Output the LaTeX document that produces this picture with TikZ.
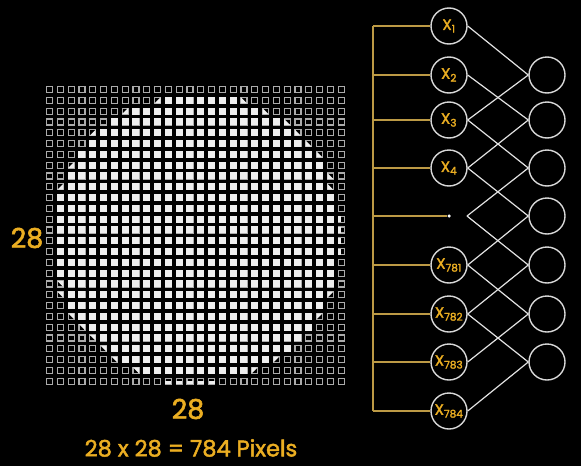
\documentclass[tikz,border=0pt]{standalone}
\usepackage{fontspec}
\usepackage{ifthen}
\setmainfont{Poppins}
\newfontfamily\popmed{Poppins}[FakeBold=2]
\definecolor{gold}{HTML}{EBAE22}
\definecolor{busgold}{HTML}{BC9A45}
\definecolor{cellgray}{HTML}{ABABAB}
\definecolor{cellwhite}{HTML}{EEEEEE}
\definecolor{ringgray}{HTML}{D8D8D8}
\definecolor{wiregray}{HTML}{E2E2E2}
\begin{document}
\begin{tikzpicture}[x=1pt,y=-1pt,
  emptycell/.style={draw=cellgray, line width=1.2pt},
  fullcell/.style={fill=cellwhite},
  neuron/.style={circle, draw=ringgray, line width=1.4pt, minimum size=36pt, inner sep=0pt, text=gold, font=\popmed\fontsize{15}{15}\selectfont},
  busline/.style={draw=busgold, line width=1.4pt},
  wire/.style={draw=wiregray, line width=1.2pt},
  dotnode/.style={circle, fill=white, minimum size=3.5pt, inner sep=0pt},
  bigtxt/.style={text=gold, font=\popmed\fontsize{27}{27}\selectfont},
  midtxt/.style={text=gold, font=\popmed\fontsize{22.5}{22.5}\selectfont}]
\fill[black] (0,0) rectangle (581,466);
\useasboundingbox (0,0) rectangle (581,466);
% ---------- grid: empty outlines ----------
\foreach \r in {0,...,27}{
  \foreach \c in {0,...,27}{
    \pgfmathsetmacro\xx{46.5+10.8*\c}
    \pgfmathsetmacro\yy{86.5+10.8*\r}
    \draw[emptycell] (\xx,\yy) rectangle ++(6,6);
  }
}
% ---------- filled cells ----------
\foreach \r/\a/\b in {1/11/17, 2/8/19, 3/6/21, 4/5/22, 5/4/23, 6/3/24, 7/3/25, 8/2/25, 9/2/25,
  10/1/26, 11/1/26, 12/1/26, 13/1/26, 14/1/26, 15/1/26, 16/1/26, 17/1/26, 18/2/26, 19/2/25,
  20/2/25, 21/3/24, 22/4/24, 23/5/23, 24/6/22, 25/7/20, 26/9/18}{
  \foreach \c in {\a,...,\b}{
    \pgfmathsetmacro\xx{46.5+10.8*\c}
    \pgfmathsetmacro\yy{86.5+10.8*\r}
    \fill[fullcell] (\xx-0.5,\yy-0.5) rectangle ++(7,7);
  }
}
% ---------- partial cells ----------
\foreach \r/\c/\d in {1/10/br, 1/18/bl, 2/7/br, 2/20/bl, 3/22/bl, 4/4/br, 4/23/bl, 5/24/bl, 6/25/bl,
  7/2/br, 8/26/bl, 9/1/br, 9/26/bl, 12/27/lh, 13/27/lh, 14/27/lh, 15/27/lh, 18/1/tr, 19/1/tr, 19/26/tl,
  21/2/tr, 21/25/tl, 22/3/tr, 23/4/tr, 24/5/tr, 25/6/tr, 25/21/tl, 26/8/tr, 26/19/tl,
  27/11/bh, 27/12/bh, 27/13/bh, 27/14/bh, 27/15/bh}{
  \pgfmathsetmacro\xx{46.5+10.8*\c}
  \pgfmathsetmacro\yy{86.5+10.8*\r}
  \ifthenelse{\equal{\d}{br}}{\fill[cellwhite] (\xx+6,\yy) -- (\xx+6,\yy+6) -- (\xx,\yy+6) -- cycle;}{}
  \ifthenelse{\equal{\d}{bl}}{\fill[cellwhite] (\xx,\yy) -- (\xx,\yy+6) -- (\xx+6,\yy+6) -- cycle;}{}
  \ifthenelse{\equal{\d}{tr}}{\fill[cellwhite] (\xx,\yy) -- (\xx+6,\yy) -- (\xx+6,\yy+6) -- cycle;}{}
  \ifthenelse{\equal{\d}{tl}}{\fill[cellwhite] (\xx,\yy) -- (\xx+6,\yy) -- (\xx,\yy+6) -- cycle;}{}
  \ifthenelse{\equal{\d}{lh}}{\fill[cellwhite] (\xx,\yy) rectangle (\xx+3.2,\yy+6);}{}
  \ifthenelse{\equal{\d}{bh}}{\fill[cellwhite] (\xx,\yy+3) rectangle (\xx+6,\yy+6);}{}
}
% ---------- texts ----------
\node[bigtxt] (side) at (27,238) {28};
\node[bigtxt] (bottom) at (188,409) {28};
\node[midtxt] (formula) at (191,448) {28 x 28 = 784 Pixels};
% ---------- input neurons ----------
\node[neuron] (i0) at (449,26) {X\textsubscript{1}};
\node[neuron] (i1) at (449,75) {X\textsubscript{2}};
\node[neuron] (i2) at (449,120) {X\textsubscript{3}};
\node[neuron] (i3) at (449,168) {X\textsubscript{4}};
\node[dotnode] (i4) at (449,216) {};
\coordinate (i4e) at (467,216);
\node[neuron] (i5) at (449,265) {X\textsubscript{781}};
\node[neuron] (i6) at (449,314) {X\textsubscript{782}};
\node[neuron] (i7) at (449,362) {X\textsubscript{783}};
\node[neuron] (i8) at (449,411) {X\textsubscript{784}};
% ---------- hidden neurons ----------
\node[neuron] (h1) at (547,75) {};
\node[neuron] (h2) at (547,120) {};
\node[neuron] (h3) at (547,168) {};
\node[neuron] (h4) at (547,216) {};
\node[neuron] (h5) at (547,265) {};
\node[neuron] (h6) at (547,314) {};
\node[neuron] (h7) at (547,362) {};
% ---------- bus ----------
\coordinate (b0) at (373,26);
\coordinate (b1) at (373,75);
\coordinate (b2) at (373,120);
\coordinate (b3) at (373,168);
\coordinate (b4) at (373,216);
\coordinate (b5) at (373,265);
\coordinate (b6) at (373,314);
\coordinate (b7) at (373,362);
\coordinate (b8) at (373,411);
\draw[busline] (b0) -- (b8);
\foreach \k in {0,1,2,3,5,6,7,8}{\draw[busline] (b\k) -- (i\k.west);}
\draw[busline] (b4) -- (i4);
% ---------- wires ----------
\draw[wire] (i0.east) -- (h1.west);
\draw[wire] (i1.east) -- (h2.west);
\draw[wire] (i2.east) -- (h1.west);
\draw[wire] (i2.east) -- (h3.west);
\draw[wire] (i3.east) -- (h2.west);
\draw[wire] (i3.east) -- (h4.west);
\draw[wire] (i4e) -- (h3.west);
\draw[wire] (i4e) -- (h5.west);
\draw[wire] (i5.east) -- (h4.west);
\draw[wire] (i5.east) -- (h6.west);
\draw[wire] (i6.east) -- (h5.west);
\draw[wire] (i6.east) -- (h7.west);
\draw[wire] (i7.east) -- (h6.west);
\draw[wire] (i8.east) -- (h7.west);
\end{tikzpicture}
\end{document}
